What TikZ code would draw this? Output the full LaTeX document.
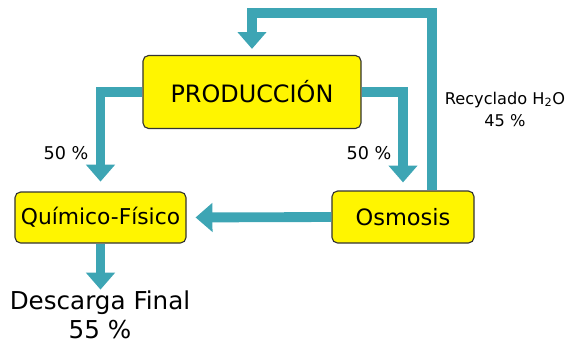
\documentclass[tikz,border=0pt]{standalone}
\usepackage{fontspec}
\setmainfont{DejaVu Sans}
\usetikzlibrary{arrows.meta}
\definecolor{agua}{HTML}{3DA5B4}
\definecolor{amarillo}{HTML}{FFF500}
\begin{document}
\begin{tikzpicture}[x=0.025cm,y=-0.025cm,
    caja/.style={draw=black!80,fill=amarillo,rounded corners=4pt,line width=0.8pt,inner sep=0pt},
    flujo/.style={agua,line width=7pt,-{Triangle[width=20pt,length=12pt]}},
    etiq/.style={font=\fontsize{12.5}{14}\selectfont}]
\useasboundingbox (0,0) rectangle (580,345);
% cajas
\node[caja,minimum width=5.45cm,minimum height=1.825cm,font=\fontsize{17}{20}\selectfont] (prod) at (252,92) {PRODUCCIÓN};
\node[caja,minimum width=4.275cm,minimum height=1.275cm,font=\fontsize{15.5}{18}\selectfont] (quim) at (100.5,217.5) {Químico-Físico};
\node[caja,minimum width=3.55cm,minimum height=1.3cm,font=\fontsize{16}{18}\selectfont] (osm) at (403,217) {Osmosis};
\node[anchor=north,align=center,inner sep=0pt,font=\fontsize{17.5}{20}\selectfont] (desc) at (100,291) {Descarga Final\\55 \%};
% textos
\node[etiq] (izq) at (66,153) {50 \%};
\node[etiq] (der) at (369,153) {50 \%};
\node[align=center,font=\fontsize{11.5}{15.6}\selectfont] (rec) at (505,109) {Recyclado H\textsubscript{2}O\\45 \%};
% flechas
\coordinate (arriba) at (432,13);
\draw[flujo,shorten >=7pt](prod.west)-|(quim.north);
\draw[flujo,shorten >=5.7pt](prod.east)-|(osm.north);
\draw[flujo,shorten >=6.4pt](osm.west)--(quim.east);
\draw[flujo,shorten >=4.3pt](osm.north-|arriba)--(arriba)-|(prod.north);
\draw[flujo,shorten >=1pt](quim.south)--(quim.south|-desc.north);
\end{tikzpicture}
\end{document}
